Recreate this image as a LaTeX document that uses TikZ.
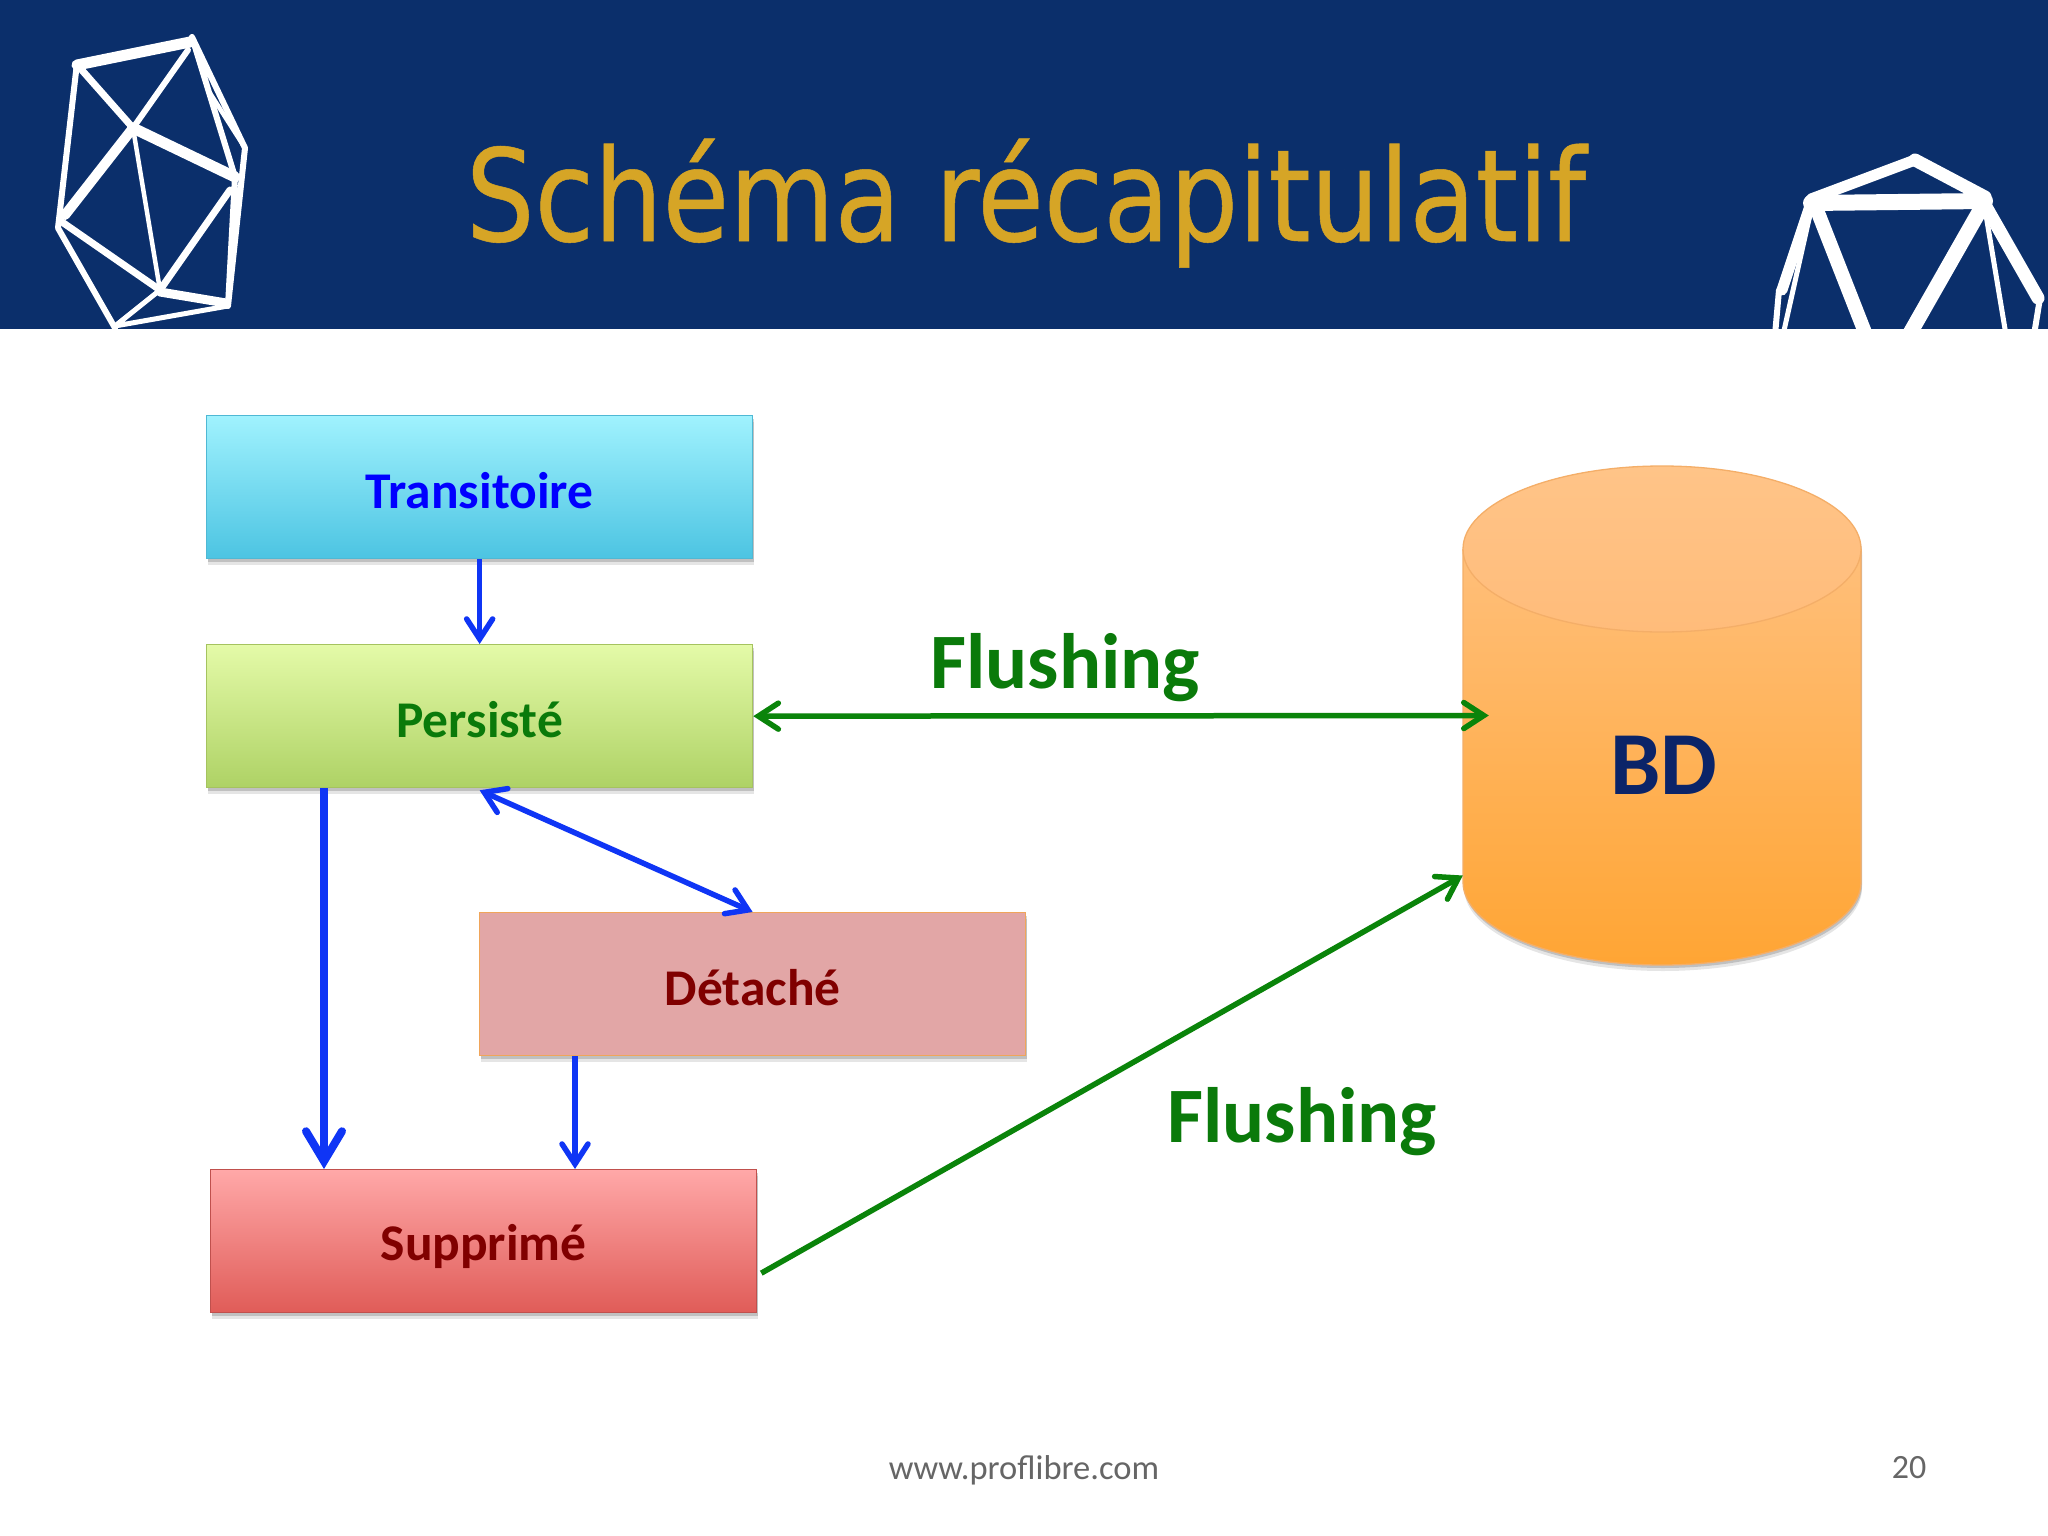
\documentclass[tikz,border=0pt]{standalone}
\usepackage{fontspec}
\setmainfont{Carlito}
\newfontfamily\titlefont[FakeStretch=0.845,FakeBold=0.4]{DejaVu Sans}
\usetikzlibrary{arrows.meta,calc}
\definecolor{navy}{HTML}{0B2F6B}
\definecolor{gold}{HTML}{D6A526}
\definecolor{bluearrow}{HTML}{0F35F5}
\definecolor{greenarrow}{HTML}{0A840A}
\definecolor{darkred}{HTML}{800000}
\definecolor{flushgreen}{HTML}{0A7A0A}
\definecolor{cyltop}{HTML}{FFC488}
\definecolor{cylmid}{HTML}{FFBC7A}
\definecolor{cylbot}{HTML}{FFA534}
\definecolor{cylline}{HTML}{F4AE68}
\definecolor{transtop}{HTML}{A0F2FE}
\definecolor{transbot}{HTML}{4CC4E2}
\definecolor{transline}{HTML}{4FB8D4}
\definecolor{perstop}{HTML}{E4FAA8}
\definecolor{persbot}{HTML}{AED265}
\definecolor{persline}{HTML}{A5C35F}
\definecolor{detfill}{HTML}{E2A6A6}
\definecolor{detline}{HTML}{F0A55A}
\definecolor{suptop}{HTML}{FFA8A8}
\definecolor{supbot}{HTML}{E05C58}
\definecolor{supline}{HTML}{C0504D}
\definecolor{bdtext}{HTML}{0B2468}
\tikzset{
  softshadow/.style={
    preaction={fill=black,fill opacity=.10,transform canvas={xshift=1pt,yshift=-6pt}},
    preaction={fill=black,fill opacity=.16,transform canvas={xshift=1pt,yshift=-3pt}}},
  state/.style={rectangle,minimum width=546pt,minimum height=143pt,inner sep=0pt,line width=1.3pt,
    font=\fontsize{51.5}{56}\selectfont\bfseries,softshadow},
  flowthin/.style={draw=bluearrow,line width=5.5pt,-{Straight Barb[length=20pt,width=26pt,line cap=round]}},
  flowtwo/.style={draw=bluearrow,line width=5.5pt,{Straight Barb[length=20pt,width=26pt,line cap=round]}-{Straight Barb[length=20pt,width=26pt,line cap=round]}},
  flowthick/.style={draw=bluearrow,line width=8pt,-{Straight Barb[length=30pt,width=36pt,line cap=round]}},
  flushone/.style={draw=greenarrow,line width=5.5pt,-{Straight Barb[length=20pt,width=26pt,line cap=round]}},
  flushtwo/.style={draw=greenarrow,line width=5.5pt,{Straight Barb[length=20pt,width=26pt,line cap=round]}-{Straight Barb[length=20pt,width=26pt,line cap=round]}},
  flushlabel/.style={text=flushgreen,font=\fontsize{78.5}{82}\selectfont\bfseries,inner sep=0pt},
  logo/.style={draw=white,line cap=round,line join=round},
}
\newcommand{\lowered}[2]{\raisebox{-#1}[\height][\depth]{#2}}
\begin{document}
\begin{tikzpicture}[x=1pt,y=-1pt]
\useasboundingbox (0,0) rectangle (2048,1536);
\fill[white] (0,0) rectangle (2048,1536);
\fill[navy] (0,0) rectangle (2048,329);
% left logo
\begin{scope}
\clip (0,0) rectangle (2048,329);
\draw[logo,line width=6pt] (77,63)--(58,228) (192,37)--(235,177) (192,37)--(245,148)--(228,306) (235,177)--(228,306)
  (58,228)--(115,328) (133,128)--(188,50) ;
\draw[logo,line width=11pt] (77,65)--(190,42) (133,128)--(235,177);
\draw[logo,line width=7pt] (80,68)--(133,128)  (62,222)--(160,290) (160,290)--(230,190);
\draw[logo,line width=10pt] (65,215)--(133,128);
\draw[logo,line width=4.5pt] (133,128)--(160,290) (245,148)--(208,90);
\draw[logo,line width=5pt] (160,290)--(115,326)--(228,306);
\draw[logo,line width=9pt] (160,292)--(226,303);
% right logo
\draw[logo,line width=11pt] (1811,199)--(1915,160);
\draw[logo,line width=13pt] (1915,160)--(1985,197);
\draw[logo,line width=16pt] (1811,203)--(1985,201);
\draw[logo,line width=14pt] (1815,205)--(1866,335);
\draw[logo,line width=15pt] (1983,205)--(1909,335);
\draw[logo,line width=5pt] (1986,215)--(2006,335);
\draw[logo,line width=11pt] (1811,203)--(1782,290);
\draw[logo,line width=5pt] (1811,210)--(1783,335);
\draw[logo,line width=6pt] (1779,290)--(1775,335);
\draw[logo,line width=13pt] (1985,205)--(2038,298);
\draw[logo,line width=6pt] (2040,298)--(2034,335);
\end{scope}
\node[text=gold,font=\titlefont\fontsize{128}{134}\selectfont,inner sep=0pt,anchor=base] (title) at (1026,241) {Schéma récapitulatif};
% cylinder
\path[softshadow,top color=cyltop,bottom color=cylbot] (1463,549) -- (1463,882) arc[start angle=180,end angle=360,x radius=199,y radius=-83] -- (1861,549) arc[start angle=0,end angle=180,x radius=199,y radius=-83] -- cycle;
\draw[cylline,line width=1.3pt] (1463,549) -- (1463,882) arc[start angle=180,end angle=360,x radius=199,y radius=-83] -- (1861,549);
\draw[cylline,line width=1.3pt,top color=cyltop,bottom color=cylmid] (1662,549) ellipse[x radius=199,y radius=83];
\node[minimum width=398pt,minimum height=499pt,inner sep=0pt] (bd) at (1662,715.5) {};
\node[text=bdtext,font=\fontsize{90}{94}\selectfont\bfseries,inner sep=0pt] (bdlabel) at (1664,765) {BD};
% states
\node[state,anchor=north west,draw=transline,top color=transtop,bottom color=transbot,text=blue] (transitoire) at (206,415) {\lowered{3pt}{Transitoire}};
\node[state,anchor=north west,draw=persline,top color=perstop,bottom color=persbot,text=flushgreen] (persiste) at (206,644) {\lowered{3pt}{Persisté}};
\node[state,anchor=north west,draw=detline,fill=detfill,text=darkred] (detache) at (479,912) {\lowered{3pt}{Détaché}};
\node[state,anchor=north west,draw=supline,top color=suptop,bottom color=supbot,text=darkred] (supprime) at (210,1169) {\lowered{5pt}{Supprimé}};
% flows
\draw[flowthin] (transitoire.south) -- (persiste.north);
\draw[flowthick] ([xshift=118pt]persiste.south west) -- ([xshift=114pt]supprime.north west);
\draw[flowtwo] ([yshift=-2pt]persiste.south) -- (detache.north);
\draw[flowthin] ([xshift=96pt]detache.south west) -- ([xshift=365pt]supprime.north west);
\draw[flushtwo] (persiste.east) -- ([xshift=26pt]bd.west);
\draw[flushone] ([xshift=4pt,yshift=-32pt]supprime.east) -- ([yshift=-160pt]bd.west);
\node[flushlabel] (flush1) at (1065,668) {Flushing};
\node[flushlabel] (flush2) at (1302,1122) {Flushing};
\node[text=black!60,font=\fontsize{34.5}{38}\selectfont,inner sep=0pt] (web) at (1024,1470) {www.proflibre.com};
\node[text=black!60,font=\fontsize{34}{38}\selectfont,inner sep=0pt] (num) at (1909,1468) {20};
\end{tikzpicture}
\end{document}
